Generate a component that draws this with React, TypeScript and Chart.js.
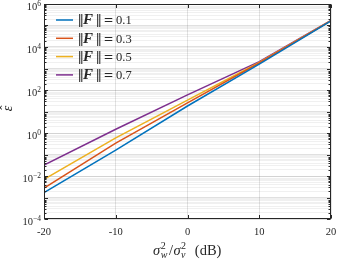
import React, { useEffect, useRef } from 'react';
import { Chart, registerables } from 'chart.js';
Chart.register(...registerables);

const xValues = [-20, -10, 0, 10, 20];
const seriesNames = ['0.1', '0.3', '0.5', '0.7'];
const f01 = [0.0017, 0.16, 18, 1600, 1.66e5];
const f03 = [0.0027, 0.34, 25, 1800, 1.68e5];
const f05 = [0.007, 0.59, 34, 1900, 1.7e5];
const f07 = [0.032, 1.5, 59, 2100, 1.72e5];
const seriesValues = [f01, f03, f05, f07];
const seriesColors = ['#0072BD', '#D95319', '#EDB120', '#7E2F8E'];
const xTicks = [-20, -10, 0, 10, 20];
const yLabelExponents = [-4, -2, 0, 2, 4, 6];
const yMinExp = -4;
const yMaxExp = 6;

const SERIF = '"Liberation Serif", "DejaVu Serif", serif';
const DSERIF = '"DejaVu Serif", serif';
const AX = '#262626';

const yTickVals: number[] = [];
for (let e = yMinExp; e < yMaxExp; e++) {
  for (let m = 1; m <= 9; m++) yTickVals.push(Number((m * Math.pow(10, e)).toPrecision(3)));
}
yTickVals.push(Math.pow(10, yMaxExp));
const isPow10 = (v: number) => {
  const l = Math.log10(v);
  return Math.abs(l - Math.round(l)) < 1e-9;
};

const decorPlugin = {
  id: 'decor',
  afterDraw(chart: any) {
    const { ctx, chartArea: ca, scales } = chart;
    const xs = scales.x;
    const ys = scales.y;
    const L = Math.round(ca.left) + 0.5;
    const R = Math.round(ca.right) - 0.5;
    const T = Math.round(ca.top) + 0.5;
    const B = Math.round(ca.bottom) - 0.5;
    ctx.save();
    ctx.strokeStyle = AX;
    ctx.lineWidth = 1;
    ctx.strokeRect(L, T, R - L, B - T);
    ctx.beginPath();
    for (const v of yTickVals) {
      const y = Math.round(ys.getPixelForValue(v)) + 0.5;
      const len = isPow10(v) ? 3.5 : 2;
      ctx.moveTo(L, y); ctx.lineTo(L + len, y);
      ctx.moveTo(R, y); ctx.lineTo(R - len, y);
    }
    for (const v of xTicks) {
      const x = Math.round(xs.getPixelForValue(v)) + 0.5;
      ctx.moveTo(x, B); ctx.lineTo(x, B - 3.5);
      ctx.moveTo(x, T); ctx.lineTo(x, T + 3.5);
    }
    ctx.stroke();

    // y tick labels 10^n
    ctx.fillStyle = AX;
    ctx.textBaseline = 'alphabetic';
    ctx.textAlign = 'left';
    for (const e of yLabelExponents) {
      const y = ys.getPixelForValue(Math.pow(10, e));
      const base = '10';
      const sup = e < 0 ? '\u2212' + Math.abs(e) : String(e);
      ctx.font = `7.5px ${SERIF}`;
      const w2 = ctx.measureText(sup).width;
      ctx.font = `10.5px ${SERIF}`;
      const w1 = ctx.measureText(base).width;
      const right = ca.left - 3;
      ctx.fillText(base, right - w2 - w1, y + 6);
      ctx.font = `7.5px ${SERIF}`;
      ctx.fillText(sup, right - w2, y + 1.5);
    }

    // y title: epsilon hat, rotated
    ctx.save();
    ctx.translate(9, ca.top + (ca.bottom - ca.top) / 2 - 3);
    ctx.rotate(-Math.PI / 2);
    ctx.textAlign = 'center';
    ctx.font = `italic 14px ${SERIF}`;
    ctx.fillText('\u03B5', 0, 3);
    ctx.font = `13px ${SERIF}`;
    ctx.fillText('\u02C6', 1, 0);
    ctx.restore();

    // x title
    const parts: { t: string; font: string; dy: number; stackWith?: { t: string; font: string; dy: number } }[] = [
      { t: '\u03C3', font: `italic 14.5px ${SERIF}`, dy: 0 },
      { t: '2', font: `10px ${SERIF}`, dy: -6, stackWith: { t: 'w', font: `italic 10px ${SERIF}`, dy: 3 } },
      { t: '/', font: `14.5px ${SERIF}`, dy: 0 },
      { t: '\u03C3', font: `italic 14.5px ${SERIF}`, dy: 0 },
      { t: '2', font: `10px ${SERIF}`, dy: -6, stackWith: { t: 'v', font: `italic 10px ${SERIF}`, dy: 3 } },
      { t: '  (dB)', font: `14.5px ${SERIF}`, dy: 0 },
    ];
    const widths = parts.map((p) => {
      ctx.font = p.font;
      let w = ctx.measureText(p.t).width;
      if (p.stackWith) {
        ctx.font = p.stackWith.font;
        w = Math.max(w, ctx.measureText(p.stackWith.t).width);
      }
      return w + (p.stackWith ? 1.5 : 0.5);
    });
    const total = widths.reduce((a, b) => a + b, 0);
    let cx = (ca.left + ca.right) / 2 - total / 2;
    const by = 255;
    parts.forEach((p, i) => {
      ctx.font = p.font;
      ctx.fillText(p.t, cx, by + p.dy);
      if (p.stackWith) {
        ctx.font = p.stackWith.font;
        ctx.fillText(p.stackWith.t, cx, by + p.stackWith.dy);
      }
      cx += widths[i];
    });

    // legend
    seriesNames.forEach((name, i) => {
      const y = 20 + i * 18.3;
      ctx.strokeStyle = seriesColors[i];
      ctx.lineWidth = 1.5;
      ctx.beginPath();
      ctx.moveTo(56, y);
      ctx.lineTo(73, y);
      ctx.stroke();
      ctx.fillStyle = AX;
      const bl = y + 4.3;
      ctx.font = `13px ${DSERIF}`;
      ctx.fillText('\u2016', 77.5, bl);
      ctx.font = `italic bold 15px ${SERIF}`;
      ctx.fillText('F', 83, bl);
      ctx.font = `13px ${DSERIF}`;
      ctx.fillText('\u2016', 95.5, bl);
      ctx.font = `12px ${DSERIF}`;
      ctx.fillText('=', 103.5, bl);
      ctx.font = `12.5px ${SERIF}`;
      ctx.fillText(name, 116, bl);
    });
    ctx.restore();
  },
};

export default function App() {
  const ref = useRef<HTMLCanvasElement | null>(null);
  useEffect(() => {
    document.body.style.margin = '0';
    const canvas = ref.current;
    if (!canvas) return;
    const chart = new Chart(canvas, {
      type: 'line',
      data: {
        datasets: seriesValues.map((vals, i) => ({
          label: '\u2016F\u2016 = ' + seriesNames[i],
          data: xValues.map((x, j) => ({ x, y: vals[j] })),
          borderColor: seriesColors[i],
          backgroundColor: seriesColors[i],
          borderWidth: 1.5,
          pointRadius: 0,
          tension: 0,
          fill: false,
        })),
      },
      options: {
        animation: false,
        responsive: true,
        maintainAspectRatio: false,
        layout: { padding: { top: 4, right: 6, left: 0, bottom: 0 } },
        plugins: { legend: { display: false }, tooltip: { enabled: false } },
        scales: {
          x: {
            type: 'linear',
            min: -20,
            max: 20,
            afterBuildTicks: (scale: any) => {
              scale.ticks = xTicks.map((v) => ({ value: v }));
            },
            afterFit: (scale: any) => {
              scale.height = 42;
              scale.paddingLeft = 0;
              scale.paddingRight = 0;
            },
            ticks: {
              autoSkip: false,
              maxRotation: 0,
              padding: 7,
              color: AX,
              font: { family: SERIF, size: 10.5 },
              callback: (v: any) => String(v),
            },
            grid: { color: 'rgba(38,38,38,0.13)', drawTicks: false, lineWidth: 1 },
            border: { display: false },
          },
          y: {
            type: 'logarithmic',
            min: Math.pow(10, yMinExp),
            max: Math.pow(10, yMaxExp),
            afterBuildTicks: (scale: any) => {
              scale.ticks = yTickVals.map((v) => ({ value: v, major: isPow10(v) }));
            },
            afterFit: (scale: any) => {
              scale.width = 44;
              scale.paddingTop = 0;
              scale.paddingBottom = 0;
            },
            ticks: { display: false, autoSkip: false },
            grid: {
              drawTicks: false,
              lineWidth: 1,
              color: (c: any) =>
                c.tick && isPow10(c.tick.value) ? 'rgba(38,38,38,0.14)' : 'rgba(38,38,38,0.07)',
            },
            border: { display: false },
          },
        },
      },
      plugins: [decorPlugin],
    } as any);
    return () => chart.destroy();
  }, []);
  return (
    <div style={{ position: 'absolute', left: 0, top: 0, width: 337, height: 261 }}>
      <canvas ref={ref} />
    </div>
  );
}
